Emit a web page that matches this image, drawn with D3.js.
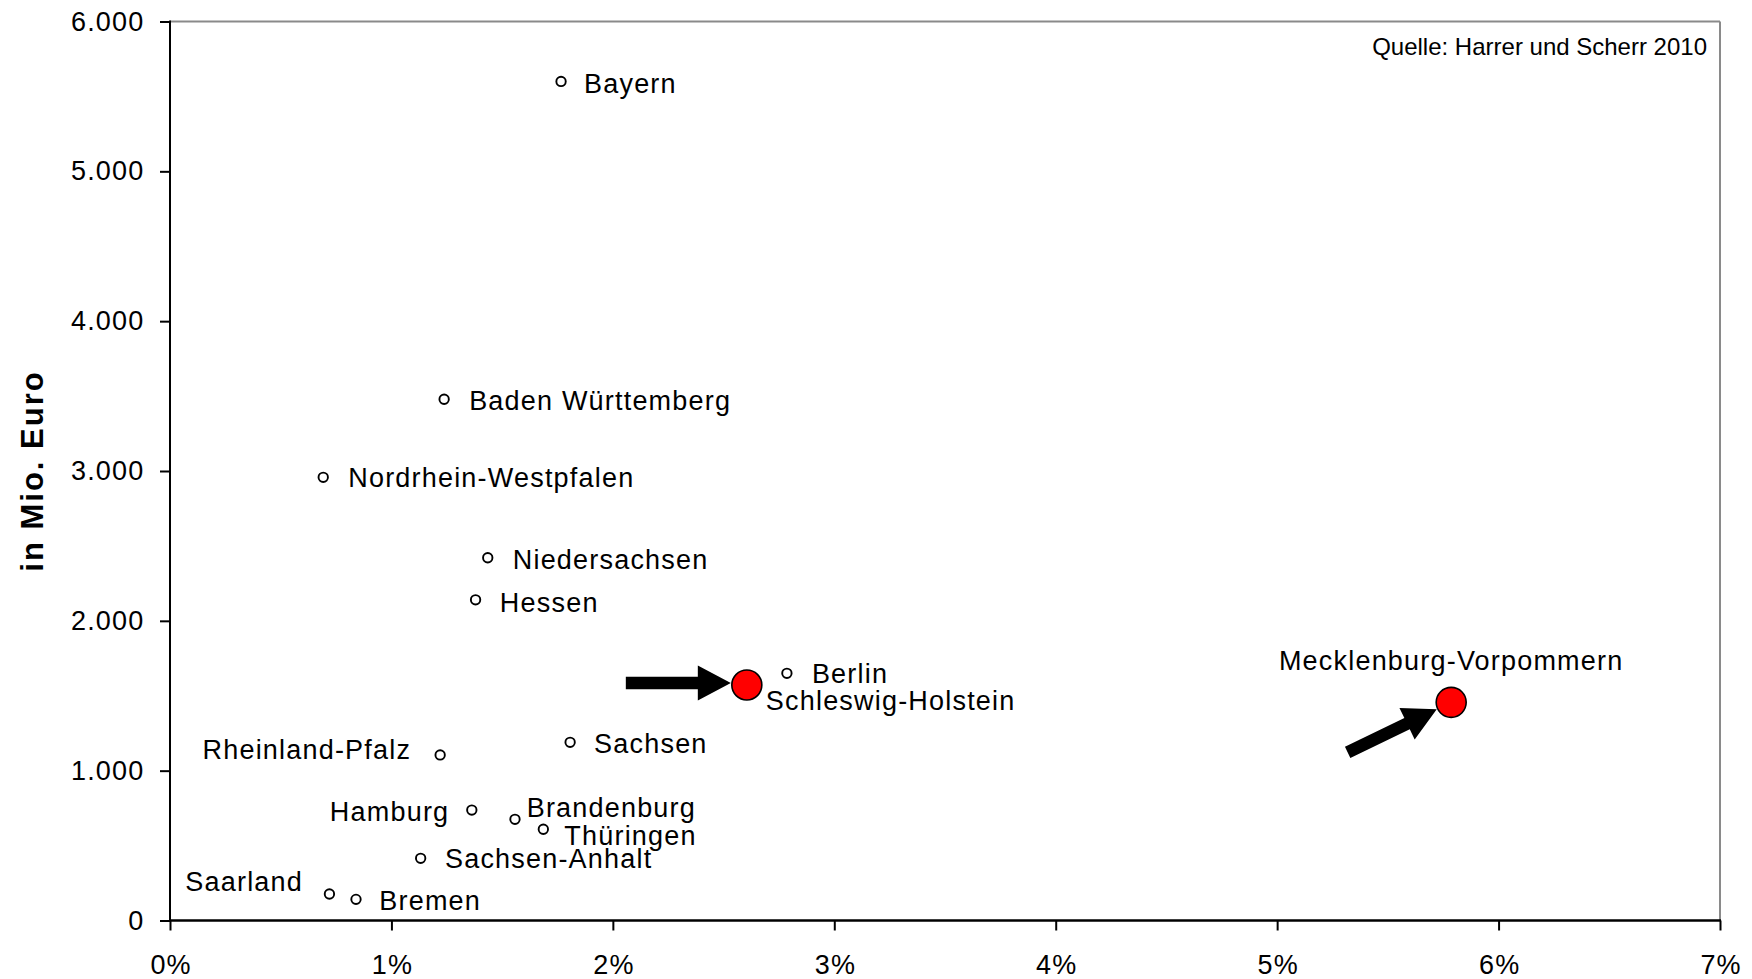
<!DOCTYPE html>
<html>
<head>
<meta charset="utf-8">
<script src="https://cdn.jsdelivr.net/npm/d3@7"></script>
<style>
  html, body { margin: 0; padding: 0; background: #fff; }
  svg { display: block; }
  text { font-family: "Liberation Sans", Arial, sans-serif; fill: #000; }
</style>
</head>
<body>
<svg id="chart" width="1752" height="979"></svg>
<script>
// ---- data ----
const states = ["Bayern", "Baden Württemberg", "Nordrhein-Westpfalen", "Niedersachsen", "Hessen",
  "Berlin", "Schleswig-Holstein", "Mecklenburg-Vorpommern", "Sachsen", "Rheinland-Pfalz",
  "Hamburg", "Brandenburg", "Thüringen", "Sachsen-Anhalt", "Saarland", "Bremen"];
const sharePercent = [1.766, 1.238, 0.692, 1.435, 1.38, 2.786, 2.605, 5.786, 1.807, 1.22,
  1.363, 1.558, 1.686, 1.132, 0.72, 0.84];
const amountMioEuro = [5600, 3479, 2958, 2421, 2140, 1650, 1572, 1456, 1189, 1105,
  737, 675, 609, 415, 177, 141];
const highlighted = ["Schleswig-Holstein", "Mecklenburg-Vorpommern"];
const xTicks = [0, 1, 2, 3, 4, 5, 6, 7];
const yTicks = [0, 1000, 2000, 3000, 4000, 5000, 6000];
const yAxisTitle = "in Mio. Euro";
const sourceNote = "Quelle: Harrer und Scherr 2010";

// ---- layout (label placement, arrows) ----
const labelPlacement = {
  "Bayern": ["start", 23, 11.3],
  "Baden Württemberg": ["start", 25, 10.7],
  "Nordrhein-Westpfalen": ["start", 25, 9.4],
  "Niedersachsen": ["start", 25, 11.3],
  "Hessen": ["start", 24.3, 11.7],
  "Berlin": ["start", 25, 10],
  "Schleswig-Holstein": ["start", 19, 25],
  "Mecklenburg-Vorpommern": ["middle", 0, -32.3],
  "Sachsen": ["start", 24, 11],
  "Rheinland-Pfalz": ["end", -29, 4.3],
  "Hamburg": ["end", -22.5, 10.7],
  "Brandenburg": ["start", 11.7, -2.6],
  "Thüringen": ["start", 21, 15.7],
  "Sachsen-Anhalt": ["start", 24.3, 10],
  "Saarland": ["end", -26.4, -3.3],
  "Bremen": ["start", 23.3, 10.7]
};
const arrows = [
  { target: "Schleswig-Holstein", angleDeg: 0, gap: 16, length: 105, dyOffset: -2 },
  { target: "Mecklenburg-Vorpommern", angleDeg: -25.8, gap: 16, length: 99, dyOffset: 0 }
];

const margin = { left: 170, right: 1720, top: 21.5, bottom: 920.5 };
const svg = d3.select("#chart");

const x = d3.scaleLinear().domain([0, 7]).range([margin.left, margin.right]);
const y = d3.scaleLinear().domain([0, 6000]).range([margin.bottom, margin.top]);

const de = d3.formatLocale({ decimal: ",", thousands: ".", grouping: [3], currency: ["", " €"] });
const yFmt = de.format(",d");

// axes
const gy = svg.append("g").attr("transform", `translate(${margin.left},0)`)
  .call(d3.axisLeft(y).tickValues(yTicks).tickFormat(yFmt).tickSize(10).tickPadding(15.5));
const gx = svg.append("g").attr("transform", `translate(0,${margin.bottom})`)
  .call(d3.axisBottom(x).tickValues(xTicks).tickFormat(d => d + "%").tickSize(10).tickPadding(24));
[gy, gx].forEach(g => {
  g.select(".domain").remove();
  g.selectAll(".tick line").attr("stroke", "#000").attr("stroke-width", 2);
  g.selectAll(".tick text").attr("font-size", 27).attr("letter-spacing", 1.2)
    .attr("font-family", '"Liberation Sans", Arial, sans-serif').attr("fill", "#000");
});
gx.selectAll(".tick text").attr("dx", 0.6);

// frame
svg.append("line").attr("x1", margin.left).attr("x2", margin.right).attr("y1", margin.top).attr("y2", margin.top)
  .attr("stroke", "#8a8a8a").attr("stroke-width", 2);
svg.append("line").attr("x1", margin.right).attr("x2", margin.right).attr("y1", margin.top).attr("y2", margin.bottom)
  .attr("stroke", "#8a8a8a").attr("stroke-width", 2);
svg.append("line").attr("x1", margin.left).attr("x2", margin.left).attr("y1", margin.top - 1).attr("y2", margin.bottom + 1)
  .attr("stroke", "#000").attr("stroke-width", 2);
svg.append("line").attr("x1", margin.left - 1).attr("x2", margin.right + 1).attr("y1", margin.bottom).attr("y2", margin.bottom)
  .attr("stroke", "#000").attr("stroke-width", 2.3);

// y axis title
svg.append("text")
  .attr("transform", `translate(43,471) rotate(-90)`)
  .attr("text-anchor", "middle")
  .attr("font-size", 31).attr("font-weight", "bold").attr("letter-spacing", 2)
  .text(yAxisTitle);

// source note
svg.append("text").attr("x", 1707).attr("y", 55).attr("text-anchor", "end")
  .attr("font-size", 24).text(sourceNote);

const data = states.map((s, i) => ({ name: s, share: sharePercent[i], amount: amountMioEuro[i], hi: highlighted.includes(s) }));
const byName = Object.fromEntries(data.map(d => [d.name, d]));

// arrows
arrows.forEach(a => {
  const d = byName[a.target];
  const cx = x(d.share), cy = y(d.amount) + a.dyOffset;
  const th = a.angleDeg * Math.PI / 180;
  const ux = Math.cos(th), uy = Math.sin(th);
  const px = -uy, py = ux;
  const tipX = cx - ux * a.gap, tipY = cy - uy * a.gap;
  const tailX = tipX - ux * a.length, tailY = tipY - uy * a.length;
  const headLen = 33, headHalf = 17.5, shaftHalf = 6.2;
  const bX = tipX - ux * headLen, bY = tipY - uy * headLen;
  const pts = [
    [tailX + px * shaftHalf, tailY + py * shaftHalf],
    [bX + px * shaftHalf, bY + py * shaftHalf],
    [bX + px * headHalf, bY + py * headHalf],
    [tipX, tipY],
    [bX - px * headHalf, bY - py * headHalf],
    [bX - px * shaftHalf, bY - py * shaftHalf],
    [tailX - px * shaftHalf, tailY - py * shaftHalf]
  ];
  svg.append("polygon").attr("points", pts.map(p => p.join(",")).join(" ")).attr("fill", "#000");
});

// points
svg.append("g").selectAll("circle").data(data).join("circle")
  .attr("cx", d => x(d.share)).attr("cy", d => y(d.amount))
  .attr("r", d => d.hi ? 15 : 4.7)
  .attr("fill", d => d.hi ? "#ff0000" : "#fff")
  .attr("stroke", "#000").attr("stroke-width", d => d.hi ? 1.6 : 1.9);

// labels
svg.append("g").selectAll("text").data(data).join("text")
  .attr("x", d => x(d.share) + labelPlacement[d.name][1])
  .attr("y", d => y(d.amount) + labelPlacement[d.name][2])
  .attr("text-anchor", d => labelPlacement[d.name][0])
  .attr("font-size", 27).attr("letter-spacing", 1.2)
  .text(d => d.name);
</script>
</body>
</html>
